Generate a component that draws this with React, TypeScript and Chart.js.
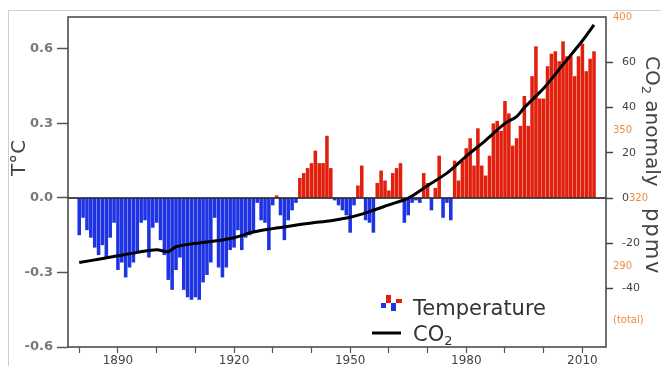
import React, { useEffect, useRef } from 'react';
import { Chart, registerables } from 'chart.js';

Chart.register(...registerables);

// ---------- data ----------
const startYear = 1880;
// global temperature anomaly (°C), one value per year from 1880
const tempAnomaly = [
  -0.15, -0.08, -0.13, -0.16, -0.20, -0.23, -0.19, -0.24, -0.16, -0.10, // 1880s
  -0.29, -0.26, -0.32, -0.28, -0.26, -0.22, -0.10, -0.09, -0.24, -0.12, // 1890s
  -0.10, -0.17, -0.23, -0.33, -0.37, -0.29, -0.24, -0.37, -0.40, -0.41, // 1900s
  -0.40, -0.41, -0.34, -0.31, -0.26, -0.08, -0.28, -0.32, -0.28, -0.21, // 1910s
  -0.20, -0.13, -0.21, -0.16, -0.15, -0.14, -0.02, -0.09, -0.10, -0.21, // 1920s
  -0.03, 0.01, -0.07, -0.17, -0.09, -0.05, -0.02, 0.08, 0.10, 0.12,     // 1930s
  0.14, 0.19, 0.14, 0.14, 0.25, 0.12, -0.01, -0.03, -0.05, -0.07,       // 1940s
  -0.14, -0.03, 0.05, 0.13, -0.09, -0.10, -0.14, 0.06, 0.11, 0.07,      // 1950s
  0.03, 0.10, 0.12, 0.14, -0.10, -0.07, -0.02, -0.01, -0.02, 0.10,      // 1960s
  0.06, -0.05, 0.04, 0.17, -0.08, -0.02, -0.09, 0.15, 0.07, 0.15,       // 1970s
  0.20, 0.24, 0.13, 0.28, 0.13, 0.09, 0.17, 0.30, 0.31, 0.27,           // 1980s
  0.39, 0.34, 0.21, 0.24, 0.29, 0.41, 0.29, 0.49, 0.61, 0.40,           // 1990s
  0.40, 0.53, 0.58, 0.59, 0.55, 0.63, 0.57, 0.57, 0.49, 0.57,           // 2000s
  0.62, 0.51, 0.56, 0.59,                                               // 2010s
];
const tempYears = tempAnomaly.map((_, i) => startYear + i);

// atmospheric CO2 (ppmv, total)
const co2Years = [1880, 1885, 1890, 1895, 1900, 1903, 1905, 1910, 1915, 1920, 1925, 1930, 1935, 1940, 1945, 1950, 1955, 1960, 1965, 1970, 1975, 1980, 1985, 1990, 1993, 1995, 2000, 2005, 2010, 2013];
const co2Ppm = [291.5, 293, 294.5, 296, 297.2, 296.3, 298.5, 300, 301, 302.5, 305, 306.5, 307.8, 309, 310, 311.5, 314, 317, 320, 325.5, 331, 338.5, 345.5, 353, 356, 360, 368.5, 379, 389.5, 396.5];
const co2Baseline = 320;

// axis ticks
const tempTicks = [-0.6, -0.3, 0, 0.3, 0.6];
const co2AnomalyTicks = [-40, -20, 0, 20, 40, 60];
const co2TotalTicks = [400, 350, 320, 290];
const co2TotalNote = '(total)';
const co2TotalNoteAt = 266;
const yearTicks = [1880, 1890, 1900, 1910, 1920, 1930, 1940, 1950, 1960, 1970, 1980, 1990, 2000, 2010];
const yearLabels = [1890, 1920, 1950, 1980, 2010];

// ---------- style ----------
const RED = '#e2200e';
const BLUE = '#1e33e4';
const FONT = 'DejaVu Sans';

const decorPlugin = {
  id: 'decor',
  beforeDraw(chart: any) {
    const { ctx, width, height } = chart;
    ctx.save();
    ctx.fillStyle = '#ffffff';
    ctx.fillRect(0, 0, width, height);
    ctx.strokeStyle = '#cfcfcf';
    ctx.lineWidth = 1;
    ctx.beginPath();
    ctx.moveTo(8.5, height);
    ctx.lineTo(8.5, 10.5);
    ctx.lineTo(width, 10.5);
    ctx.stroke();
    ctx.restore();
  },
  afterDatasetsDraw(chart: any) {
    const { ctx, chartArea } = chart;
    const y = chart.scales.y;
    const y2 = chart.scales.y2;
    ctx.save();
    // zero line
    const zy = y.getPixelForValue(0);
    ctx.strokeStyle = '#111';
    ctx.lineWidth = 1.5;
    ctx.beginPath();
    ctx.moveTo(chartArea.left, zy);
    ctx.lineTo(chartArea.right, zy);
    ctx.stroke();
    // frame
    ctx.strokeStyle = '#4d4d4d';
    ctx.lineWidth = 1.6;
    ctx.strokeRect(chartArea.left, chartArea.top, chartArea.right - chartArea.left, chartArea.bottom - chartArea.top);

    // orange total CO2 labels
    ctx.fillStyle = '#f08a3e';
    ctx.textBaseline = 'middle';
    ctx.textAlign = 'left';
    ctx.font = `11px ${FONT}`;
    const zeroW = ctx.measureText('0').width;
    ctx.font = `10px ${FONT}`;
    co2TotalTicks.forEach((v) => {
      const py = y2.getPixelForValue(v - co2Baseline);
      const onBlack = co2AnomalyTicks.includes(v - co2Baseline);
      const px = onBlack ? chartArea.right + 16 + zeroW : chartArea.right + 7;
      ctx.fillText(String(v), px, py);
    });
    ctx.fillText(co2TotalNote, chartArea.right + 7, y2.getPixelForValue(co2TotalNoteAt - co2Baseline));

    // left title
    ctx.fillStyle = '#444';
    ctx.font = `20px ${FONT}`;
    ctx.textBaseline = 'alphabetic';
    ctx.save();
    ctx.translate(25, 176);
    ctx.rotate(-Math.PI / 2);
    ctx.fillText('T°C', 0, 0);
    ctx.restore();

    // right titles
    const drawSub = (parts: [string, boolean][], x: number, yy: number) => {
      ctx.save();
      ctx.translate(x, yy);
      ctx.rotate(Math.PI / 2);
      let cx = 0;
      parts.forEach(([t, sub]) => {
        ctx.font = sub ? `13px ${FONT}` : `20px ${FONT}`;
        ctx.fillText(t, cx, sub ? 4 : 0);
        cx += ctx.measureText(t).width;
      });
      ctx.restore();
    };
    drawSub([['CO', false], ['2', true], [' anomaly', false]], 646, 56);
    ctx.save();
    ctx.translate(646, 208);
    ctx.rotate(Math.PI / 2);
    ctx.font = `21px ${FONT}`;
    (ctx as any).letterSpacing = '2px';
    ctx.fillText('ppmv', 0, 0);
    ctx.restore();

    // legend
    ctx.fillStyle = BLUE;
    ctx.fillRect(381, 303, 5, 5);
    ctx.fillRect(391, 303, 5, 8);
    ctx.fillStyle = RED;
    ctx.fillRect(386, 295, 5, 8);
    ctx.fillRect(396, 299, 6, 4);
    ctx.fillStyle = '#333';
    ctx.font = `21px ${FONT}`;
    ctx.fillText('Temperature', 413, 315);
    ctx.strokeStyle = '#000';
    ctx.lineWidth = 3;
    ctx.beginPath();
    ctx.moveTo(372, 333);
    ctx.lineTo(401, 333);
    ctx.stroke();
    ctx.fillText('CO', 413, 341);
    const coW = ctx.measureText('CO').width;
    ctx.font = `13px ${FONT}`;
    ctx.fillText('2', 413 + coW, 345);
    ctx.restore();
  },
};

export default function App() {
  const ref = useRef<HTMLCanvasElement>(null);
  useEffect(() => {
    if (!ref.current) return;
    Chart.defaults.font.family = FONT;
    const chart = new Chart(ref.current, {
      type: 'bar',
      data: {
        datasets: [
          {
            type: 'line',
            label: 'CO2',
            data: co2Years.map((yr, i) => ({ x: yr, y: co2Ppm[i] - co2Baseline })),
            yAxisID: 'y2',
            borderColor: '#000',
            borderWidth: 3,
            pointRadius: 0,
            tension: 0.3,
            order: 0,
          } as any,
          {
            type: 'bar',
            label: 'Temperature',
            data: tempYears.map((yr, i) => ({ x: yr, y: tempAnomaly[i] })),
            yAxisID: 'y',
            backgroundColor: tempAnomaly.map((v) => (v >= 0 ? RED : BLUE)),
            borderWidth: 0,
            barPercentage: 0.92,
            categoryPercentage: 1,
            order: 1,
          } as any,
        ],
      },
      options: {
        animation: false,
        responsive: false,
        devicePixelRatio: 1,
        layout: { padding: { top: 17, left: 0, right: 0, bottom: 0 } },
        plugins: { legend: { display: false }, tooltip: { enabled: false } },
        scales: {
          x: {
            type: 'linear',
            offset: false,
            min: 1877.1,
            max: 2016.1,
            afterBuildTicks: (s: any) => {
              s.ticks = yearTicks.map((v) => ({ value: v }));
            },
            ticks: {
              autoSkip: false,
              maxRotation: 0,
              padding: 1,
              color: '#444',
              font: { size: 12, family: FONT },
              callback: (v: any) => (yearLabels.includes(Number(v)) ? String(v) : ''),
            },
            grid: { offset: false, drawOnChartArea: false, tickLength: 6, tickColor: '#555', tickWidth: 1.2 },
            border: { display: false },
            afterFit: (s: any) => {
              s.height = 19;
            },
          },
          y: {
            position: 'left',
            min: -0.6,
            max: 0.728,
            afterBuildTicks: (s: any) => {
              s.ticks = tempTicks.map((v) => ({ value: v }));
            },
            ticks: {
              padding: 4,
              color: '#777',
              font: { size: 13, weight: 'bold', family: FONT },
              callback: (v: any) => Number(v).toFixed(1),
            },
            grid: { drawOnChartArea: false, tickLength: 11, tickColor: '#555', tickWidth: 1.5 },
            border: { display: false },
            afterFit: (s: any) => {
              s.width = 68;
            },
          },
          y2: {
            position: 'right',
            min: -65.8,
            max: 80,
            afterBuildTicks: (s: any) => {
              s.ticks = co2AnomalyTicks.map((v) => ({ value: v }));
            },
            ticks: {
              padding: 9,
              color: '#444',
              font: { size: 11, family: FONT },
              callback: (v: any) => String(v),
            },
            grid: { drawOnChartArea: false, tickLength: 7, tickColor: '#444', tickWidth: 1.5 },
            border: { display: false },
            afterFit: (s: any) => {
              s.width = 55;
            },
          },
        },
      } as any,
      plugins: [decorPlugin],
    });
    return () => chart.destroy();
  }, []);
  return (
    <div style={{ position: 'fixed', left: 0, top: 0, width: 661, height: 366, background: '#fff' }}>
      <canvas ref={ref} width={661} height={366} style={{ display: 'block' }} />
    </div>
  );
}
